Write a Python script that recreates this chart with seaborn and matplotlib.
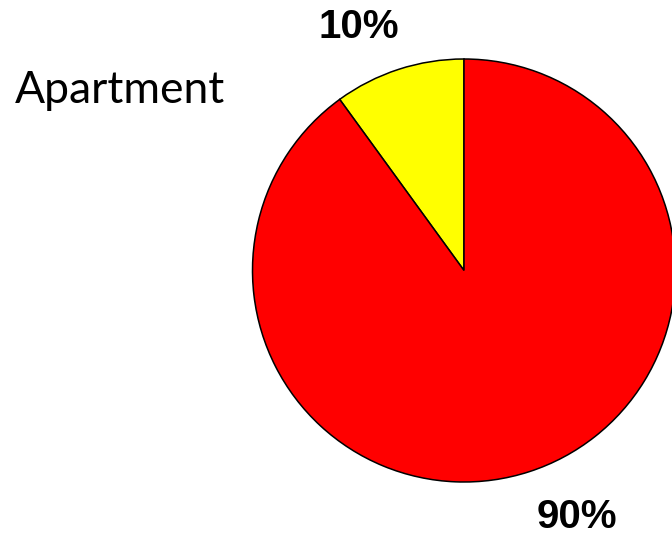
import matplotlib
matplotlib.use("Agg")
import matplotlib.pyplot as plt
import seaborn as sns

# data
labels = ["Other", "Apartment"]
shares = [10, 90]
pct_text = ["10%", "90%"]
colors = ["#FFFF00", "#FF0000"]

sns.set_theme(style="white")
plt.rcParams['font.family'] = ['Liberation Sans', 'DejaVu Sans']

W, H = 672, 536
fig = plt.figure(figsize=(W / 100, H / 100), dpi=100)

# pie centre (464, 270) px, radius ~211 px
cx, cy, r = 464, 270.5, 211.5
ax = fig.add_axes([(cx - r) / W, (H - cy - r) / H, 2 * r / W, 2 * r / H])
wedges, _ = ax.pie(shares, colors=colors, startangle=90, counterclock=True,
                   wedgeprops=dict(edgecolor="black", linewidth=1.1))
for w in wedges:
    w.set_clip_on(False)
ax.set_xlim(-1, 1)
ax.set_ylim(-1, 1)
ax.set_aspect("equal")
ax.axis("off")

# percentage labels (pixel positions converted to data units)
ax.text((359 - cx) / r, (cy - 27) / r, pct_text[0], ha="center", va="center",
        fontsize=29, fontweight="bold", color="black")
ax.text((577 - cx) / r, (cy - 517) / r, pct_text[1], ha="center", va="center",
        fontsize=29, fontweight="bold", color="black")

fig.text(15 / W, 1 - 103 / H, labels[1], ha="left", va="baseline",
         fontsize=32, family=["Lato", "DejaVu Sans"], color="black")

fig.savefig("out.png", dpi=100)
